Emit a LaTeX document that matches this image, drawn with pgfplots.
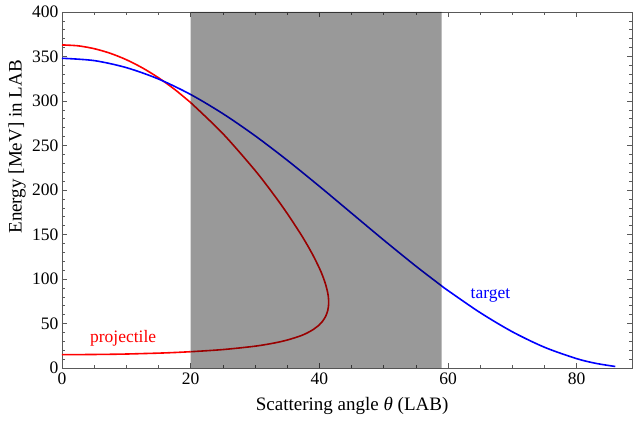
\documentclass[border=0pt]{standalone}
\usepackage{pgfplots}
\pgfplotsset{compat=1.18}
\usepackage{fontspec}
\setmainfont{Liberation Serif}
\definecolor{framegray}{gray}{0.35}
\begin{document}
\begin{tikzpicture}[x=1pt,y=1pt]
\begin{axis}[
  name=ax,
  scale only axis,
  width=570pt, height=356pt,
  xmin=0, xmax=88.6, ymin=0, ymax=400,
  xtick={0,20,40,60,80}, minor x tick num=3,
  ytick={0,50,100,150,200,250,300,350,400}, minor y tick num=4,
  tick align=inside,
  major tick length=5pt, minor tick length=3pt,
  axis line style={framegray, line width=0.8pt},
  every tick/.style={framegray, line width=0.6pt},
  tick label style={font=\fontsize{17.5}{20}\selectfont},
  /pgf/number format/assume math mode=true,
  xticklabel style={yshift=-1pt},
  label style={font=\fontsize{19}{22}\selectfont},
  xlabel={Scattering angle {\itshape θ} (LAB)},
  ylabel={Energy [MeV] in LAB},
  xlabel style={at={(axis description cs:0.509,-0.12)}, anchor=base},
  ylabel style={at={(axis description cs:-0.079,0.621)}, anchor=center},
  clip=true,
]
% projectile outside band
\addplot[red, line width=1.6pt, smooth] coordinates {
(0,363.0) (2.5,362.0) (5,358.8) (7.5,353.6) (10,346.4) (12.5,337.2) (15,326.1) (17.5,313.1) (20,298.2)
};
\addplot[red, line width=1.6pt, smooth] coordinates {
(0,15.0) (2.5,15.06) (5,15.2) (7.5,15.4) (10,15.7) (12.5,16.2) (15,16.7) (17.5,17.4) (20,18.3)
};
% projectile inside band
\addplot[red, line width=1.6pt, smooth] coordinates {
(20,298.2) (25,263.4) (30,222.1) (33,194.0) (35,173.7) (37,151.7) (38,139.8) (39,126.9) (40,112.3) (40.5,103.8) (41,93.4) (41.3,84.6) (41.4,80.2) (41.45,73.8) (41.4,68.3) (41.3,64.4) (41,58.3) (40.5,52.5) (40,48.5) (39,43.0) (38,39.0) (37,35.9) (35,31.4) (33,28.1) (30,24.5) (25,20.7) (20,18.3)
};
% target
\addplot[blue, line width=1.6pt, smooth] coordinates {
(0,348.0) (5,345.4) (10,337.5) (15,324.7) (20,307.3) (25,285.8) (30,261.0) (35,233.5) (40,204.2) (45,174.0) (50,143.8) (55,114.5) (59,92.3) (60,87.0) (65,62.2) (70,40.7) (75,23.3) (80,10.5) (83,5.2) (86,1.7)
};
% shaded band
\addplot[draw=none, fill=black, fill opacity=0.4] coordinates {(20,0) (59,0) (59,400) (20,400)} \closedcycle;
\node[red, font=\fontsize{17.5}{20}\selectfont, anchor=base] at (axis cs:9.5,29) {projectile};
\node[blue, font=\fontsize{17.5}{20}\selectfont, anchor=base] at (axis cs:66.6,78) {target};
\end{axis}
\pgfresetboundingbox
\path[use as bounding box] ([xshift=-62pt,yshift=-53pt]ax.south west) rectangle ([xshift=1pt,yshift=12pt]ax.north east);
\end{tikzpicture}
\end{document}
